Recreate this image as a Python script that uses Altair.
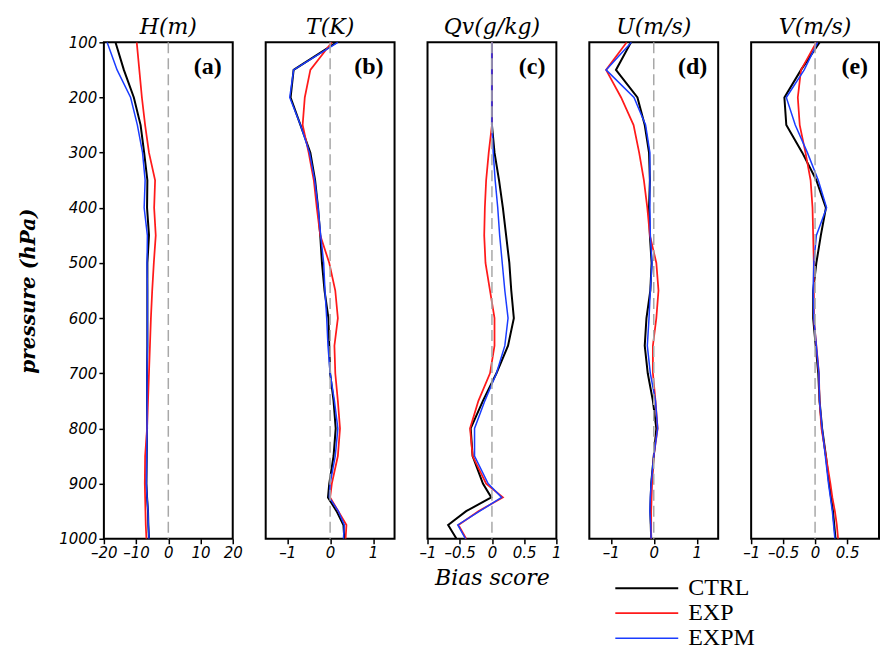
import altair as alt
import pandas as pd

levels = [100, 150, 200, 250, 300, 350, 400, 450, 500, 550, 600, 650, 700,
          750, 800, 850, 900, 925, 950, 975, 1000]
series_names = ["CTRL", "EXP", "EXPM"]

# H (m)
h_ctrl = [-16.4, -13.8, -10.7, -8.6, -7.5, -6.5, -6.6, -6.0, -6.5, -6.5, -6.5, -6.5, -6.6,
          -6.6, -6.6, -6.7, -6.8, -6.6, -6.3, -6.2, -6.0]
h_exp = [-9.8, -9.0, -8.2, -7.2, -6.0, -4.1, -4.4, -3.9, -4.5, -5.0, -5.4, -5.7, -6.0,
         -6.3, -6.6, -7.2, -7.3, -7.2, -7.1, -7.0, -6.8]
h_expm = [-19.0, -15.9, -11.7, -9.6, -8.0, -7.2, -7.5, -6.5, -6.6, -6.5, -6.5, -6.5, -6.6,
          -6.6, -6.6, -6.7, -6.8, -6.6, -6.3, -6.2, -6.0]

# T (K)
t_ctrl = [0.15, -0.85, -0.92, -0.69, -0.46, -0.35, -0.28, -0.23, -0.19, -0.13, -0.04, -0.02, 0.00,
          0.08, 0.13, 0.08, -0.02, -0.05, 0.15, 0.31, 0.33]
t_exp = [0.04, -0.46, -0.59, -0.64, -0.50, -0.38, -0.31, -0.23, -0.02, 0.12, 0.18, 0.10, 0.12,
         0.18, 0.23, 0.18, 0.04, 0.00, 0.19, 0.38, 0.36]
t_expm = [0.18, -0.85, -0.94, -0.69, -0.48, -0.36, -0.28, -0.22, -0.15, -0.12, -0.08, -0.05, 0.00,
          0.10, 0.18, 0.12, 0.00, -0.02, 0.19, 0.33, 0.31]

# Qv (g/kg)
q_ctrl = [0.0, 0.0, 0.0, 0.0, 0.04, 0.11, 0.17, 0.22, 0.27, 0.30, 0.34, 0.25, 0.07,
          -0.14, -0.33, -0.30, -0.14, -0.01, -0.40, -0.68, -0.55]
q_exp = [0.0, 0.0, 0.0, 0.0, -0.05, -0.09, -0.11, -0.12, -0.10, -0.03, 0.04, 0.04, -0.03,
         -0.21, -0.34, -0.30, -0.09, 0.17, -0.21, -0.52, -0.40]
q_expm = [0.0, 0.0, 0.0, 0.0, 0.02, 0.05, 0.09, 0.12, 0.16, 0.20, 0.25, 0.20, 0.07,
          -0.11, -0.27, -0.27, -0.06, 0.15, -0.19, -0.53, -0.41]

# U (m/s)
u_ctrl = [-0.53, -0.88, -0.38, -0.21, -0.11, -0.09, -0.11, -0.09, -0.05, -0.08, -0.17, -0.21, -0.14,
          -0.02, 0.06, 0.00, -0.06, -0.07, -0.08, -0.07, -0.06]
u_exp = [-0.63, -1.11, -0.76, -0.47, -0.34, -0.23, -0.15, -0.09, 0.06, 0.11, 0.06, -0.02, -0.02,
         0.04, 0.09, 0.00, -0.04, -0.05, -0.06, -0.06, -0.06]
u_expm = [-0.52, -1.11, -0.46, -0.19, -0.09, -0.09, -0.09, -0.08, -0.04, -0.08, -0.11, -0.15, -0.08,
          0.04, 0.09, 0.00, -0.06, -0.08, -0.09, -0.07, -0.06]

# V (m/s)
v_ctrl = [0.07, -0.22, -0.48, -0.45, -0.20, 0.02, 0.17, 0.09, 0.02, -0.03, -0.03, 0.01, 0.05,
          0.07, 0.11, 0.17, 0.22, 0.25, 0.28, 0.30, 0.32]
v_exp = [0.02, -0.22, -0.27, -0.24, -0.15, -0.07, -0.04, -0.03, -0.02, -0.02, -0.02, 0.02, 0.06,
         0.07, 0.10, 0.17, 0.24, 0.27, 0.31, 0.34, 0.36]
v_expm = [0.04, -0.17, -0.45, -0.31, -0.12, 0.05, 0.18, 0.02, -0.02, -0.03, -0.02, 0.02, 0.06,
          0.07, 0.11, 0.16, 0.21, 0.24, 0.27, 0.29, 0.31]

panel_titles = ["H(m)", "T(K)", "Qv(g/kg)", "U(m/s)", "V(m/s)"]
panel_tags = ["(a)", "(b)", "(c)", "(d)", "(e)"]
panel_data = [(h_ctrl, h_exp, h_expm), (t_ctrl, t_exp, t_expm), (q_ctrl, q_exp, q_expm),
              (u_ctrl, u_exp, u_expm), (v_ctrl, v_exp, v_expm)]
x_domains = [[-20, 20], [-1.5, 1.5], [-1, 1], [-1.5, 1.5], [-1, 1]]
x_ticks = [[-20, -10, 0, 10, 20], [-1, 0, 1], [-1, -0.5, 0, 0.5, 1], [-1, 0, 1], [-1, -0.5, 0, 0.5]]
y_ticks = [100, 200, 300, 400, 500, 600, 700, 800, 900, 1000]

widths = [129, 129, 129, 129, 128]
H = 497
colors = ["#000000", "#ff1a1a", "#1a3cff"]

legend = alt.Legend(orient="none", legendX=511, legendY=534, title=None,
                    symbolType="stroke", symbolSize=3969, symbolStrokeWidth=2,
                    labelFont="Liberation Serif", labelFontSize=24, labelColor="black",
                    labelFontStyle="normal",
                    clipHeight=25, padding=0, labelOffset=9, rowPadding=0)

label_expr = "replace(datum.label, '\u2212', '\u2013')"

panels = []
for i in range(5):
    W = widths[i]
    rows = []
    for name, vals in zip(series_names, panel_data[i]):
        for p, v in zip(levels, vals):
            rows.append({"p": p, "value": v, "series": name})
    df = pd.DataFrame(rows)

    xaxis = alt.Axis(values=x_ticks[i], format=".1~f", labelOverlap=False, labelFlush=False,
                     labelSeparation=-20, labelExpr=label_expr,
                     title="Bias score" if i == 2 else None,
                     titleFont="DejaVu Serif", titleFontStyle="italic", titleFontWeight="normal",
                     titleFontSize=22, titlePadding=7, titleColor="black")
    if i == 0:
        yaxis = alt.Axis(values=y_ticks, format="d", title="pressure (hPa)",
                         labelOverlap=False, labelFlush=False,
                         titleFont="DejaVu Serif", titleFontStyle="italic", titleFontWeight="bold",
                         titleFontSize=20, titlePadding=20, titleColor="black")
    else:
        yaxis = None

    xscale = alt.Scale(domain=x_domains[i], nice=False, zero=False)
    x = alt.X("value:Q", scale=xscale, axis=xaxis)
    y = alt.Y("p:Q", scale=alt.Scale(domain=[100, 1000], reverse=True, nice=False, zero=False),
              axis=yaxis)

    lines = alt.Chart(df).mark_line(clip=True).encode(
        x=x, y=y,
        color=alt.Color("series:N", scale=alt.Scale(domain=series_names, range=colors),
                        legend=legend),
        strokeWidth=alt.StrokeWidth("series:N",
                                    scale=alt.Scale(domain=series_names, range=[2, 1.5, 1.5]),
                                    legend=None),
        order=alt.Order("p:Q"),
    )
    zero = alt.Chart(pd.DataFrame({"value": [0]})).mark_rule(
        color="#a8a8a8", strokeDash=[11, 5], strokeWidth=1.5
    ).encode(x=alt.X("value:Q", scale=xscale, axis=xaxis))
    tag = alt.Chart(pd.DataFrame({"t": [panel_tags[i]]})).mark_text(
        font="Liberation Serif", fontSize=24, fontWeight="bold", align="right",
        baseline="middle", color="black"
    ).encode(text="t:N", x=alt.value(W - 11), y=alt.value(25))
    ttl = alt.Chart(pd.DataFrame({"t": [panel_titles[i]]})).mark_text(
        font="DejaVu Serif", fontSize=22, fontStyle="italic", align="center",
        baseline="middle", color="black"
    ).encode(text="t:N", x=alt.value(W / 2), y=alt.value(-15))

    panel = alt.layer(lines, zero, tag, ttl).properties(width=W, height=H)
    panels.append(panel)

chart = alt.hconcat(*panels, spacing=33, bounds="flush").properties(
    padding={"left": 17, "top": 15, "right": 0, "bottom": 0},
    background="white",
).configure_view(
    stroke="black", strokeWidth=2
).configure_axis(
    labelFont="DejaVu Sans", labelFontStyle="italic", labelFontSize=15, labelColor="black",
    tickColor="black", tickSize=5, tickWidth=1.5, domain=False, grid=False, labelPadding=2
).configure_axisX(labelOverlap=False)

chart.save("out.html", embed_options={"renderer": "svg", "actions": False})
